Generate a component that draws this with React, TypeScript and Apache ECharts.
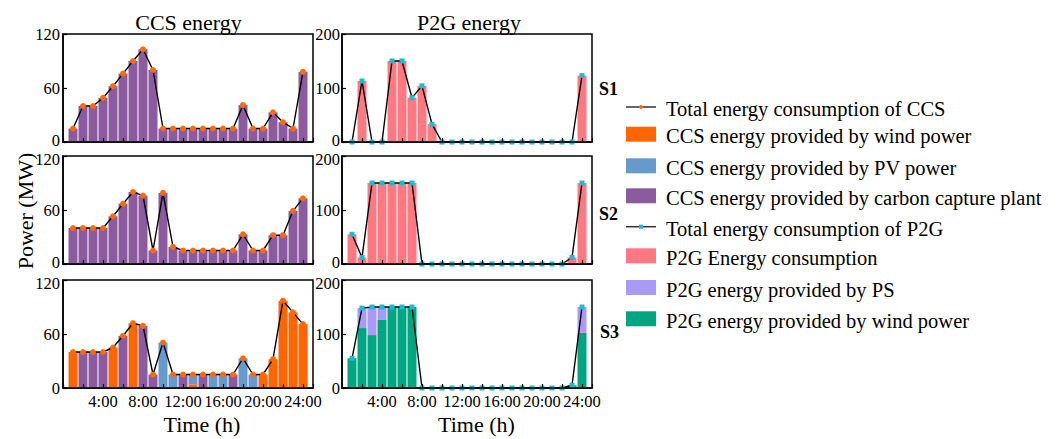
import React, { useEffect, useRef } from "react";
import * as echarts from "echarts";

// ---------- data ----------
const hours = [1, 2, 3, 4, 5, 6, 7, 8, 9, 10, 11, 12, 13, 14, 15, 16, 17, 18, 19, 20, 21, 22, 23, 24];

// CCS energy (MW)
const ccsS1Plant = [15, 40, 40, 49, 62, 76, 90, 103, 80, 15, 15, 15, 15, 15, 15, 15, 15, 41, 15, 15, 33, 22, 15, 78];
const ccsS2Plant = [40, 40, 40, 40, 53, 67, 80, 76, 15, 79, 19, 15, 15, 15, 15, 15, 15, 33, 15, 15, 32, 32, 59, 73];
const ccsS3Wind = [40, 0, 0, 0, 45, 0, 72, 0, 0, 0, 0, 0, 4, 0, 0, 0, 0, 0, 0, 15, 32, 97, 84, 71];
const ccsS3PV = [0, 0, 0, 0, 0, 0, 0, 0, 0, 50.5, 15, 0, 11, 0, 15, 15, 0, 33, 15, 0, 0, 0, 0, 0];
const ccsS3Plant = [0, 40, 40, 40, 0, 58, 0, 69, 15, 0, 0, 15, 0, 15, 0, 0, 15, 0, 0, 0, 0, 0, 0, 0];

// P2G energy (MW)
const p2gS1 = [0, 113, 0, 0, 150, 150, 82, 104, 33, 0, 0, 0, 0, 0, 0, 0, 0, 0, 0, 0, 0, 0, 0, 123];
const p2gS2 = [55, 12, 150, 150, 150, 150, 150, 0, 0, 0, 0, 0, 0, 0, 0, 0, 0, 0, 0, 0, 0, 0, 12, 150];
const p2gS3Wind = [55, 111, 98, 126, 150, 150, 150, 0, 0, 0, 0, 0, 0, 0, 0, 0, 0, 0, 0, 0, 0, 0, 5, 102];
const p2gS3PS = [0, 37, 52, 24, 0, 0, 0, 0, 0, 0, 0, 0, 0, 0, 0, 0, 0, 0, 0, 0, 0, 0, 0, 48];

const ccsTicks = [0, 60, 120];
const p2gTicks = [0, 100, 200];

const scenarioLabels = ["S1", "S2", "S3"];
const panelTitles = ["CCS energy", "P2G energy"];
const legendNames = [
  "Total energy consumption of CCS",
  "CCS energy provided by wind power",
  "CCS energy provided by PV power",
  "CCS energy provided by carbon capture plant",
  "Total energy consumption of P2G",
  "P2G Energy consumption",
  "P2G energy provided by PS",
  "P2G energy provided by wind power",
];

// ---------- styles ----------
const FONT = '"Liberation Serif", "Times New Roman", serif';
const C_WIND = "#FF6600";
const C_PV = "#6699CC";
const C_PLANT = "#8C5A9F";
const C_P2G = "#FF7882";
const C_PS = "#A99AF7";
const C_GREEN = "#00A682";
const C_DOT = "#FF6A0A";
const C_SQ = "#17BECF";

const sumArr = (...arrs: number[][]) => hours.map((_, i) => arrs.reduce((s, a) => s + a[i], 0));
const pairs = (arr: number[]) => hours.map((h, i) => [h, arr[i]]);
// value first so that the stacked dimension is the y value
const barPairs = (arr: number[]) => hours.map((h, i) => [arr[i], h]);

function buildOption() {
  const tops = [34, 156, 280];
  const lefts = [63, 342];
  const grids: any[] = [];
  const xAxes: any[] = [];
  const yAxes: any[] = [];
  const series: any[] = [];

  tops.forEach((top, r) => {
    lefts.forEach((left, c) => {
      const gi = grids.length;
      grids.push({
        left,
        top,
        width: 250,
        height: 108,
        show: true,
        borderColor: "#000",
        borderWidth: 1.5,
        backgroundColor: "transparent",
      });
      xAxes.push({
        type: "value",
        gridIndex: gi,
        min: 0,
        max: 25,
        interval: 2,
        z: 5,
        axisLine: { show: true, onZero: false, lineStyle: { color: "#000", width: 1.5 } },
        axisTick: { show: true, inside: true, length: 4, lineStyle: { color: "#000", width: 1.2 } },
        splitLine: { show: false },
        axisLabel: {
          show: r === 2,
          color: "#000",
          fontFamily: FONT,
          fontSize: 16.5,
          margin: 5,
          formatter: (v: number) => (v > 0 && v % 4 === 0 ? `${v}:00` : ""),
        },
      });
      const ticks = c === 0 ? ccsTicks : p2gTicks;
      const maxT = ticks[ticks.length - 1];
      yAxes.push({
        type: "value",
        gridIndex: gi,
        min: ticks[0],
        max: maxT,
        interval: ticks[1] - ticks[0],
        z: 5,
        axisLine: { show: true, onZero: false, lineStyle: { color: "#000", width: 1.5 } },
        axisTick: { show: true, inside: true, length: 4, lineStyle: { color: "#000", width: 1.2 } },
        splitLine: { show: false },
        axisLabel: {
          color: "#000",
          fontFamily: FONT,
          fontSize: 16.5,
          margin: c === 0 ? 3 : 2,
          formatter: (v: number) =>
            r > 0 && v === maxT ? `{t|${v}}` : r < 2 && v === 0 ? `{b|${v}}` : `${v}`,
          rich: {
            t: { fontFamily: FONT, fontSize: 16.5, color: "#000", padding: [7, 0, 0, 0] },
            b: { fontFamily: FONT, fontSize: 16.5, color: "#000", padding: [0, 0, 3, 0] },
          },
        },
      });
    });
  });

  const bar = (name: string, gi: number, data: number[], color: string, stack: string) => ({
    type: "bar",
    name,
    xAxisIndex: gi,
    yAxisIndex: gi,
    stack,
    barWidth: 9,
    encode: { x: 1, y: 0 },
    data: barPairs(data),
    itemStyle: { color },
    z: 2,
  });
  const line = (name: string, gi: number, data: number[], symbol: string, size: number, color: string) => ({
    type: "line",
    name,
    xAxisIndex: gi,
    yAxisIndex: gi,
    data: pairs(data),
    symbol,
    symbolSize: size,
    showSymbol: true,
    lineStyle: { color: "#000", width: 1.4 },
    itemStyle: { color, borderWidth: 0 },
    z: 4,
  });

  // CCS S1
  series.push(bar(legendNames[3], 0, ccsS1Plant, C_PLANT, "c1"));
  series.push(line(legendNames[0], 0, ccsS1Plant, "circle", 6, C_DOT));
  // P2G S1
  series.push(bar(legendNames[5], 1, p2gS1, C_P2G, "p1"));
  series.push(line(legendNames[4], 1, p2gS1, "rect", 5, C_SQ));
  // CCS S2
  series.push(bar(legendNames[3], 2, ccsS2Plant, C_PLANT, "c2"));
  series.push(line(legendNames[0], 2, ccsS2Plant, "circle", 6, C_DOT));
  // P2G S2
  series.push(bar(legendNames[5], 3, p2gS2, C_P2G, "p2"));
  series.push(line(legendNames[4], 3, p2gS2, "rect", 5, C_SQ));
  // CCS S3
  series.push(bar(legendNames[1], 4, ccsS3Wind, C_WIND, "c3"));
  series.push(bar(legendNames[2], 4, ccsS3PV, C_PV, "c3"));
  series.push(bar(legendNames[3], 4, ccsS3Plant, C_PLANT, "c3"));
  series.push(line(legendNames[0], 4, sumArr(ccsS3Wind, ccsS3PV, ccsS3Plant), "circle", 6, C_DOT));
  // P2G S3
  series.push(bar(legendNames[7], 5, p2gS3Wind, C_GREEN, "p3"));
  series.push(bar(legendNames[6], 5, p2gS3PS, C_PS, "p3"));
  series.push(line(legendNames[4], 5, sumArr(p2gS3Wind, p2gS3PS), "rect", 5, C_SQ));

  const txt = (text: string, x: number, y: number, size: number, extra: any = {}) => ({
    type: "text",
    x,
    y,
    style: {
      text,
      fill: "#000",
      font: `${extra.bold ? "bold " : ""}${size}px ${FONT}`,
      textAlign: extra.align || "center",
      textVerticalAlign: "middle",
    },
    rotation: extra.rotation || 0,
  });

  const graphics: any[] = [];
  graphics.push(txt(panelTitles[0], 188.5, 22, 22));
  graphics.push(txt(panelTitles[1], 469, 22, 22));
  graphics.push(txt("Time (h)", 202, 424, 22));
  graphics.push(txt("Time (h)", 476.5, 424, 22));
  graphics.push(txt("Power (MW)", 25, 211, 22, { rotation: Math.PI / 2 }));
  graphics.push(txt(scenarioLabels[0], 599, 89, 18, { bold: true, align: "left" }));
  graphics.push(txt(scenarioLabels[1], 599, 214, 18, { bold: true, align: "left" }));
  graphics.push(txt(scenarioLabels[2], 600, 332, 18, { bold: true, align: "left" }));

  // legend
  const legY = [107, 134.2, 165.8, 195.8, 226.7, 255.8, 287.5, 318.8];
  const legKinds = ["lineDot", C_WIND, C_PV, C_PLANT, "lineSq", C_P2G, C_PS, C_GREEN];
  for (let i = 0; i < legendNames.length; i++) {
    const y = legY[i];
    const k = legKinds[i];
    if (k === "lineDot" || k === "lineSq") {
      graphics.push({
        type: "line",
        shape: { x1: 626, y1: y, x2: 656, y2: y },
        style: { stroke: "#333", lineWidth: 1.5 },
      });
      if (k === "lineDot") {
        graphics.push({ type: "circle", shape: { cx: 641, cy: y, r: 2 }, style: { fill: C_DOT } });
      } else {
        graphics.push({ type: "rect", shape: { x: 639, y: y - 2, width: 4, height: 4 }, style: { fill: C_SQ } });
      }
    } else {
      graphics.push({
        type: "rect",
        shape: { x: 626, y: y - 7.5, width: 30, height: 15 },
        style: { fill: k },
      });
    }
    graphics.push(txt(legendNames[i], 666, y + 2, 20.5, { align: "left" }));
  }

  return {
    animation: false,
    backgroundColor: "#fff",
    textStyle: { fontFamily: FONT },
    grid: grids,
    xAxis: xAxes,
    yAxis: yAxes,
    series,
    graphic: graphics,
  };
}

export default function App() {
  const ref = useRef<HTMLDivElement>(null);
  useEffect(() => {
    if (!ref.current) return;
    const chart = echarts.init(ref.current, null, { renderer: "svg" });
    chart.setOption(buildOption() as any);
    return () => chart.dispose();
  }, []);
  return (
    <div
      ref={ref}
      style={{ position: "fixed", left: 0, top: 0, width: 1060, height: 439, background: "#fff" }}
    />
  );
}
